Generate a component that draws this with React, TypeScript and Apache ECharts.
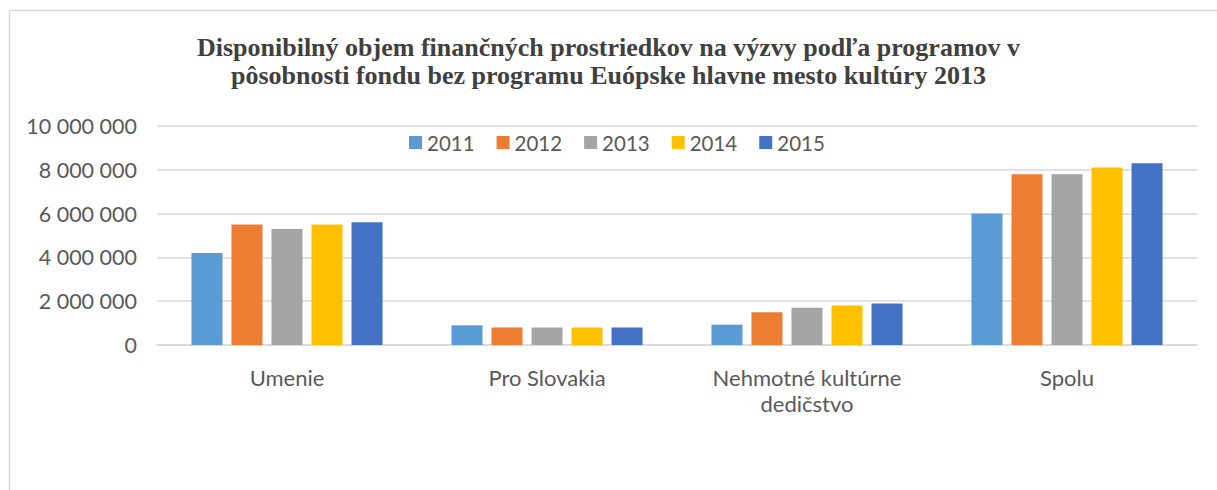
import React, { useEffect, useRef } from "react";
import * as echarts from "echarts";

const categories = ["Umenie", "Pro Slovakia", "Nehmotné kultúrne\ndedičstvo", "Spolu"];
const years = ["2011", "2012", "2013", "2014", "2015"];
const colors = ["#5B9BD5", "#ED7D31", "#A5A5A5", "#FFC000", "#4472C4"];
const v2011 = [4200000, 900000, 930000, 6000000];
const v2012 = [5500000, 800000, 1500000, 7800000];
const v2013 = [5300000, 800000, 1700000, 7800000];
const v2014 = [5500000, 800000, 1800000, 8100000];
const v2015 = [5600000, 800000, 1900000, 8300000];
const seriesValues = [v2011, v2012, v2013, v2014, v2015];
const title = "Disponibilný objem finančných prostriedkov na výzvy podľa programov v\npôsobnosti fondu bez programu Euópske hlavne mesto kultúry 2013";

const fmt = (v: number) => String(v).replace(/\B(?=(\d{3})+(?!\d))/g, " ");

export default function App() {
  const ref = useRef<HTMLDivElement>(null);
  useEffect(() => {
    const chart = echarts.init(ref.current!, null, { renderer: "svg" });
    chart.setOption({
      animation: false,
      backgroundColor: "#ffffff",
      title: {
        text: title,
        left: "center",
        top: 28,
        textStyle: {
          fontFamily: "Liberation Serif",
          fontWeight: "bold",
          fontSize: 26,
          color: "#404040",
          lineHeight: 28,
          align: "center",
        },
      },
      graphic: [
        {
          type: "rect",
          shape: { x: 9.5, y: 10.5, width: 1300, height: 600 },
          style: { fill: "none", stroke: "#d9d9d9", lineWidth: 1.5 },
          silent: true,
          z: -1,
        },
      ],
      legend: {
        top: 127,
        left: 404,
        itemWidth: 13,
        itemHeight: 13,
        itemGap: 22,
        icon: "rect",
        textStyle: { fontFamily: "Lato", fontSize: 20.5, color: "#595959" },
        data: years,
      },
      grid: { left: 157, right: 20, top: 126, bottom: 145 },
      xAxis: {
        type: "category",
        data: categories,
        axisLine: { lineStyle: { color: "#d9d9d9", width: 1.5 } },
        axisTick: { show: false },
        axisLabel: {
          fontFamily: "Lato",
          fontSize: 22,
          color: "#595959",
          margin: 19,
          lineHeight: 26,
          interval: 0,
        },
      },
      yAxis: {
        type: "value",
        min: 0,
        max: 10000000,
        interval: 2000000,
        axisLine: { show: false },
        axisTick: { show: false },
        splitLine: { lineStyle: { color: "#d9d9d9", width: 1.5 } },
        axisLabel: {
          fontFamily: "Lato",
          fontSize: 21.5,
          color: "#595959",
          margin: 20,
          formatter: (v: number) => fmt(v),
        },
      },
      series: years.map((y, i) => ({
        name: y,
        type: "bar",
        data: seriesValues[i],
        itemStyle: { color: colors[i] },
        barGap: "29%",
        barCategoryGap: "26.5%",
      })),
    });
    return () => chart.dispose();
  }, []);
  return (
    <div
      ref={ref}
      style={{ position: "fixed", left: 0, top: 0, width: 1217, height: 490 }}
    />
  );
}
